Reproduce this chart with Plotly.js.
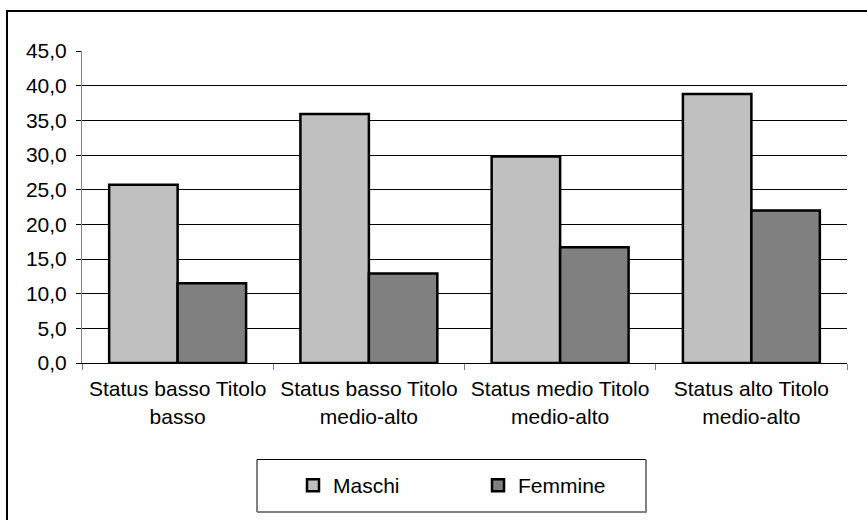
<!DOCTYPE html>
<html>
<head>
<meta charset="utf-8">
<script src="https://cdn.plot.ly/plotly-3.0.1.min.js"></script>
<style>
  html, body { margin: 0; padding: 0; background: #fff; overflow: hidden; }
  #chart { width: 867px; height: 520px; }
</style>
</head>
<body>
<div id="chart"></div>
<script>
const categories = [
  "Status basso Titolo<br>basso",
  "Status basso Titolo<br>medio-alto",
  "Status medio Titolo<br>medio-alto",
  "Status alto Titolo<br>medio-alto"
];
const seriesNames = ["Maschi", "Femmine"];
const maschi = [25.7, 35.9, 29.8, 38.8];
const femmine = [11.5, 12.9, 16.7, 22.0];
const yTickVals = [0, 5, 10, 15, 20, 25, 30, 35, 40, 45];

const FONT = "Liberation Sans, Arial, sans-serif";
const FS = 21;
const W = 867, H = 520;
const M = {l: 82, r: 20, t: 51, b: 157};
const pw = W - M.l - M.r, ph = H - M.t - M.b;
const px = (x) => (x - M.l) / pw;
const py = (y) => (H - M.b - y) / ph;

const traces = [
  {
    type: "bar", name: seriesNames[0], x: categories, y: maschi,
    marker: {color: "#C0C0C0", line: {color: "#000", width: 2.5}},
    hoverinfo: "skip"
  },
  {
    type: "bar", name: seriesNames[1], x: categories, y: femmine,
    marker: {color: "#808080", line: {color: "#000", width: 2.5}},
    hoverinfo: "skip"
  }
];

const shapes = [
  {type: "rect", xref: "paper", yref: "paper",
   x0: px(7), x1: px(W + 20), y0: py(H + 20), y1: py(11),
   line: {color: "#000", width: 2}, layer: "below"},
  {type: "line", xref: "paper", yref: "paper", x0: px(257), x1: px(646), y0: py(459.5), y1: py(459.5), line: {color: "#000", width: 1}},
  {type: "line", xref: "paper", yref: "paper", x0: px(257), x1: px(257), y0: py(459.5), y1: py(512), line: {color: "#000", width: 1}},
  {type: "line", xref: "paper", yref: "paper", x0: px(257), x1: px(646.5), y0: py(512), y1: py(512), line: {color: "#808080", width: 2}},
  {type: "line", xref: "paper", yref: "paper", x0: px(646), x1: px(646), y0: py(459.5), y1: py(512.5), line: {color: "#808080", width: 2}}
];

const layout = {
  width: W, height: H,
  margin: M,
  paper_bgcolor: "#fff", plot_bgcolor: "#fff",
  separators: ",.",
  font: {family: FONT, size: FS, color: "#000"},
  barmode: "group",
  bargap: 0.284,
  bargroupgap: 0,
  showlegend: true,
  legend: {
    orientation: "h",
    x: px(293), xanchor: "left",
    y: py(485.5), yanchor: "middle",
    entrywidth: 140, entrywidthmode: "pixels",
    itemwidth: 30,
    font: {family: FONT, size: FS, color: "#000"},
    bgcolor: "rgba(0,0,0,0)", borderwidth: 0,
    traceorder: "normal"
  },
  xaxis: {
    type: "category",
    showline: true, linecolor: "#000", linewidth: 1,
    ticks: "outside", tickson: "boundaries", ticklen: 6, tickcolor: "#808080", tickwidth: 1,
    ticklabelstandoff: 7,
    showgrid: false, zeroline: false,
    tickfont: {family: FONT, size: FS, color: "#000"},
    fixedrange: true
  },
  yaxis: {
    range: [0, 45],
    tickvals: yTickVals,
    tickformat: ".1f",
    showline: true, linecolor: "#808080", linewidth: 1,
    ticks: "outside", ticklen: 5, tickcolor: "#000", tickwidth: 1,
    ticklabelstandoff: 5,
    showgrid: true, gridcolor: "#000", gridwidth: 1,
    zeroline: false,
    tickfont: {family: FONT, size: FS, color: "#000"},
    fixedrange: true
  },
  shapes: shapes
};

Plotly.newPlot("chart", traces, layout, {staticPlot: true, displayModeBar: false});
</script>
</body>
</html>
